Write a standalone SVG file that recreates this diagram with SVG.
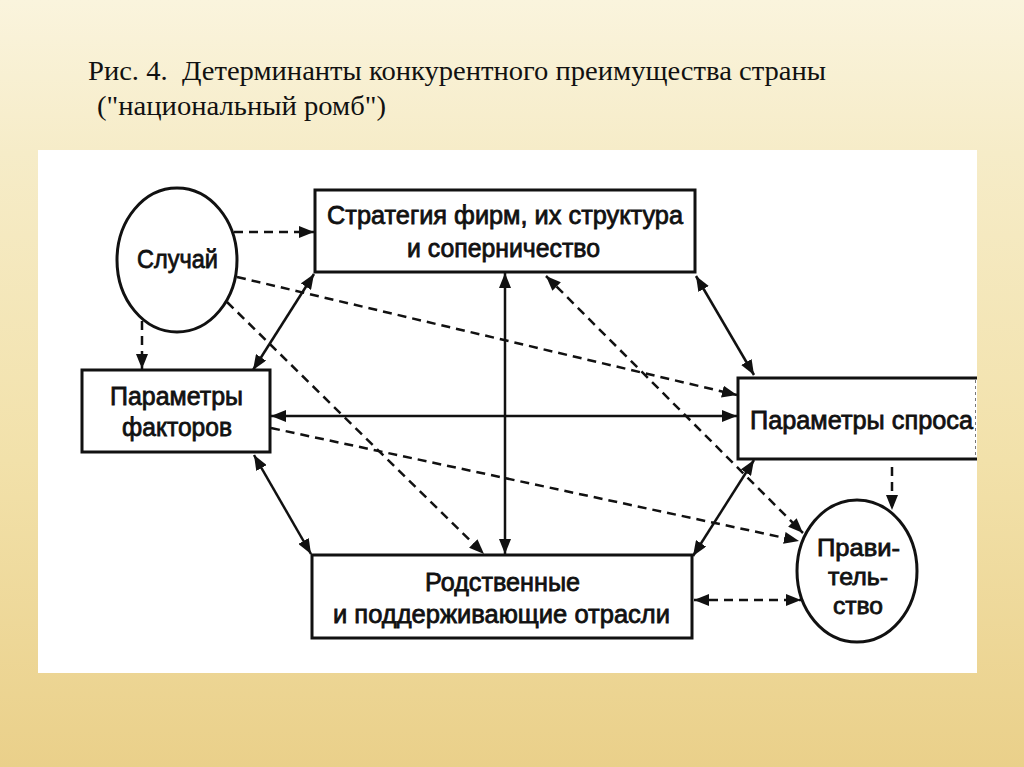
<svg xmlns="http://www.w3.org/2000/svg" width="1024" height="767" viewBox="0 0 1024 767">
  <defs>
    <linearGradient id="bg" x1="0" y1="0" x2="0" y2="767" gradientUnits="userSpaceOnUse">
      <stop offset="0" stop-color="#faf4dd"/>
      <stop offset="0.2" stop-color="#f6ecc8"/>
      <stop offset="0.6" stop-color="#f2e1aa"/>
      <stop offset="1" stop-color="#ead08a"/>
    </linearGradient>
    <clipPath id="panel">
      <rect x="38" y="150" width="939" height="523"/>
    </clipPath>
    <marker id="ah" viewBox="0 0 15 12" refX="15" refY="6" markerWidth="15" markerHeight="12" orient="auto-start-reverse" markerUnits="userSpaceOnUse">
      <path d="M0,0 L15,6 L0,12 z" fill="#111" stroke="none"/>
    </marker>
  </defs>
  <style>
    .box { fill: #ffffff; stroke: #111; stroke-width: 3; }
    .lbl { font-family: "Liberation Sans", Arial, sans-serif; font-size: 26px; fill: #111; stroke: #111; stroke-width: 0.8; }
    .gov { font-size: 24px; }
    .title { font-family: "Liberation Serif", "Times New Roman", serif; font-size: 27px; fill: #111; }
    .solid { fill: none; stroke: #111; stroke-width: 2.5; }
    .dash { fill: none; stroke: #111; stroke-width: 2.5; stroke-dasharray: 9 6; }
  </style>

  <rect x="0" y="0" width="1024" height="767" fill="url(#bg)"/>
  <rect x="38" y="150" width="939" height="523" fill="#ffffff"/>

  <g id="title">
    <text class="title" x="88" y="80" textLength="738" lengthAdjust="spacingAndGlyphs" xml:space="preserve">Рис. 4.  Детерминанты конкурентного преимущества страны</text>
    <text class="title" x="97" y="115" textLength="289" lengthAdjust="spacingAndGlyphs">("национальный ромб")</text>
  </g>

  <g id="connectors">
    <line class="dash" x1="234" y1="232" x2="314" y2="232" marker-end="url(#ah)"/>
    <line class="dash" x1="237" y1="277" x2="737" y2="395" marker-end="url(#ah)"/>
    <line class="dash" x1="227" y1="302" x2="484" y2="554" marker-end="url(#ah)"/>
    <line class="dash" x1="142" y1="321" x2="142" y2="369" marker-end="url(#ah)"/>
    <line class="solid" x1="314" y1="274" x2="253" y2="370" marker-start="url(#ah)" marker-end="url(#ah)"/>
    <line class="solid" x1="505" y1="273" x2="505" y2="554" marker-start="url(#ah)" marker-end="url(#ah)"/>
    <line class="solid" x1="271" y1="416" x2="737" y2="416" marker-start="url(#ah)" marker-end="url(#ah)"/>
    <line class="dash" x1="271" y1="428" x2="799" y2="541" marker-end="url(#ah)"/>
    <line class="solid" x1="696" y1="276" x2="754" y2="375" marker-start="url(#ah)" marker-end="url(#ah)"/>
    <line class="solid" x1="254" y1="455" x2="311" y2="554" marker-start="url(#ah)" marker-end="url(#ah)"/>
    <line class="solid" x1="754" y1="460" x2="693" y2="556" marker-start="url(#ah)" marker-end="url(#ah)"/>
    <line class="dash" x1="546" y1="276" x2="803" y2="533" marker-start="url(#ah)" marker-end="url(#ah)"/>
    <line class="dash" x1="892" y1="467" x2="892" y2="510" marker-end="url(#ah)"/>
    <line class="dash" x1="694" y1="600" x2="801" y2="600" marker-start="url(#ah)" marker-end="url(#ah)"/>
  </g>

  <g id="node-chance">
    <ellipse class="box" cx="177" cy="260" rx="60" ry="72"/>
    <text class="lbl" x="137" y="268" textLength="81" lengthAdjust="spacingAndGlyphs">Случай</text>
  </g>

  <g id="node-strategy">
    <rect class="box" x="315" y="190" width="380" height="82"/>
    <text class="lbl" x="327" y="224" textLength="356" lengthAdjust="spacingAndGlyphs">Стратегия фирм, их структура</text>
    <text class="lbl" x="407" y="257" textLength="193" lengthAdjust="spacingAndGlyphs">и соперничество</text>
  </g>

  <g id="node-factors">
    <rect class="box" x="82" y="370" width="188" height="82"/>
    <text class="lbl" x="110" y="405" textLength="133" lengthAdjust="spacingAndGlyphs">Параметры</text>
    <text class="lbl" x="122" y="436" textLength="110" lengthAdjust="spacingAndGlyphs">факторов</text>
  </g>

  <g id="node-demand" clip-path="url(#panel)">
    <rect class="box" x="738" y="378" width="260" height="81"/>
    <line x1="975.5" y1="380" x2="975.5" y2="457" stroke="#777" stroke-width="1" stroke-dasharray="3 3"/>
    <text class="lbl" x="750" y="429" textLength="223" lengthAdjust="spacingAndGlyphs">Параметры спроса</text>
  </g>

  <g id="node-related">
    <rect class="box" x="312" y="555" width="380" height="83"/>
    <text class="lbl" x="425" y="591" textLength="155" lengthAdjust="spacingAndGlyphs">Родственные</text>
    <text class="lbl" x="333" y="623" textLength="337" lengthAdjust="spacingAndGlyphs">и поддерживающие отрасли</text>
  </g>

  <g id="node-government">
    <ellipse class="box" cx="857" cy="571" rx="60" ry="71"/>
    <text class="lbl gov" x="817" y="556" textLength="83" lengthAdjust="spacingAndGlyphs">Прави-</text>
    <text class="lbl gov" x="828" y="585" textLength="60" lengthAdjust="spacingAndGlyphs">тель-</text>
    <text class="lbl gov" x="833" y="614" textLength="50" lengthAdjust="spacingAndGlyphs">ство</text>
  </g>
</svg>
